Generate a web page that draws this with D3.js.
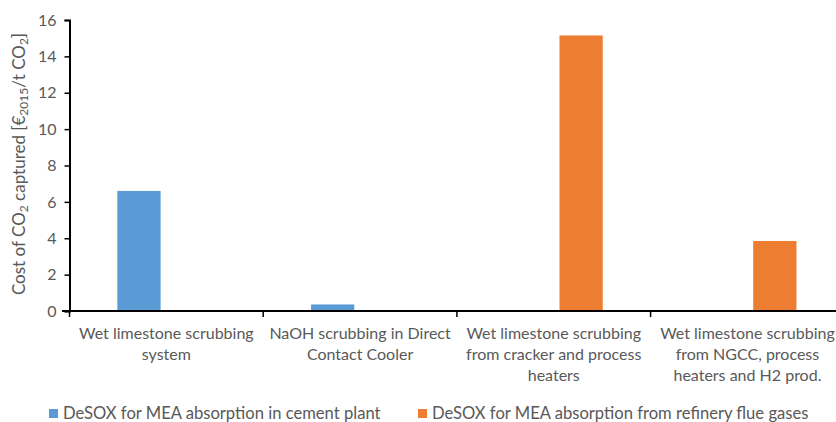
<!DOCTYPE html>
<html>
<head>
<meta charset="utf-8">
<script src="https://cdn.jsdelivr.net/npm/d3@7"></script>
<style>
  body { margin: 0; background: #fff; }
  svg { display: block; font-family: Lato, "Open Sans", sans-serif; }
</style>
</head>
<body>
<svg></svg>
<script>
// categories (x axis), one entry per group, lines split on \n
var categories = [
    "Wet limestone scrubbing\nsystem",
    "NaOH scrubbing in Direct\nContact Cooler",
    "Wet limestone scrubbing\nfrom cracker and process\nheaters",
    "Wet limestone scrubbing\nfrom NGCC, process\nheaters and H2 prod."
];
var seriesNames = [
    "DeSOX for MEA absorption in cement plant",
    "DeSOX for MEA absorption from refinery flue gases"
];
var cementValues = [6.6, 0.36, 0, 0];
var refineryValues = [0, 0, 15.15, 3.85];
var yTicks = [0, 2, 4, 6, 8, 10, 12, 14, 16];
var colors = ["#5B9BD5", "#ED7D31"];

var width = 836,
    height = 422;
var textColor = "#595959";

var svg = d3.select("svg")
    .attr("width", width)
    .attr("height", height);

// plot area (right side runs past the window, like the original crop)
var x0 = d3.scaleBand()
    .domain(categories)
    .range([69.5, 69.5 + 4 * 193.7])
    .padding(0);

var x1 = d3.scaleBand()
    .domain(seriesNames)
    .range([x0.bandwidth() / 2 - 49, x0.bandwidth() / 2 + 49])
    .paddingInner(0.21)
    .paddingOuter(0);

var y = d3.scaleLinear()
    .domain([0, 16])
    .range([311, 20]);

var rows = categories.map(function(c, i) {
    return { cat: c, values: [cementValues[i], refineryValues[i]] };
});

// bars
var groups = svg.append("g")
    .selectAll("g")
    .data(rows)
    .enter()
    .append("g")
    .attr("transform", d => "translate(" + x0(d.cat) + ",0)");

groups.selectAll("rect")
    .data(d => d.values.map((v, i) => ({ name: seriesNames[i], value: v, i: i })))
    .enter()
    .filter(d => d.value > 0)
    .append("rect")
    .attr("x", d => x1(d.name))
    .attr("width", x1.bandwidth())
    .attr("y", d => y(d.value))
    .attr("height", d => y(0) - y(d.value))
    .attr("fill", d => colors[d.i]);

// y axis
var yAxis = svg.append("g")
    .attr("transform", "translate(69.5,0)")
    .call(d3.axisLeft(y).tickValues(yTicks).tickSize(5).tickPadding(8));
yAxis.select(".domain").attr("stroke", "#000").attr("stroke-width", 2);
yAxis.selectAll(".tick line").attr("stroke", "#000").attr("stroke-width", 1.5);
yAxis.selectAll(".tick text")
    .attr("fill", textColor)
    .attr("font-size", 16)
    .attr("font-family", "Lato, sans-serif");

// x axis
var xAxis = svg.append("g")
    .attr("transform", "translate(0," + y(0) + ")");
xAxis.append("line")
    .attr("x1", 62)
    .attr("x2", width)
    .attr("stroke", "#000")
    .attr("stroke-width", 2.2);
xAxis.selectAll(".tk")
    .data(categories)
    .enter()
    .append("line")
    .attr("class", "tk")
    .attr("x1", d => x0(d))
    .attr("x2", d => x0(d))
    .attr("y1", 0)
    .attr("y2", 6)
    .attr("stroke", "#000")
    .attr("stroke-width", 1.5);

var labels = xAxis.selectAll(".lbl")
    .data(categories)
    .enter()
    .append("text")
    .attr("class", "lbl")
    .attr("text-anchor", "middle")
    .attr("fill", textColor)
    .attr("font-size", 16)
    .attr("transform", d => "translate(" + (x0(d) + x0.bandwidth() / 2) + ",28)");
labels.selectAll("tspan")
    .data(d => d.split("\n"))
    .enter()
    .append("tspan")
    .attr("x", 0)
    .attr("dy", (d, i) => i === 0 ? 0 : 21)
    .text(d => d);

// y axis title with subscripts
var title = svg.append("text")
    .attr("transform", "translate(25,164) rotate(-90)")
    .attr("text-anchor", "middle")
    .attr("fill", textColor)
    .attr("font-size", 17);
var parts = [
    ["Cost of CO", false], ["2", true], [" captured [€", false], ["2015", true],
    ["/t CO", false], ["2", true], ["]", false]
];
title.selectAll("tspan")
    .data(parts)
    .enter()
    .append("tspan")
    .attr("font-size", d => d[1] ? 12 : 17)
    .attr("baseline-shift", d => d[1] ? "-3" : null)
    .text(d => d[0]);

// legend
var legendX = [49, 418];
var legend = svg.append("g")
    .selectAll("g")
    .data(seriesNames)
    .enter()
    .append("g")
    .attr("transform", (d, i) => "translate(" + legendX[i] + ",409)");
legend.append("rect")
    .attr("width", 9)
    .attr("height", 9)
    .attr("fill", (d, i) => colors[i]);
legend.append("text")
    .attr("x", 14)
    .attr("y", 9.5)
    .attr("fill", textColor)
    .attr("font-size", 16.6)
    .text(d => d);
</script>
</body>
</html>
